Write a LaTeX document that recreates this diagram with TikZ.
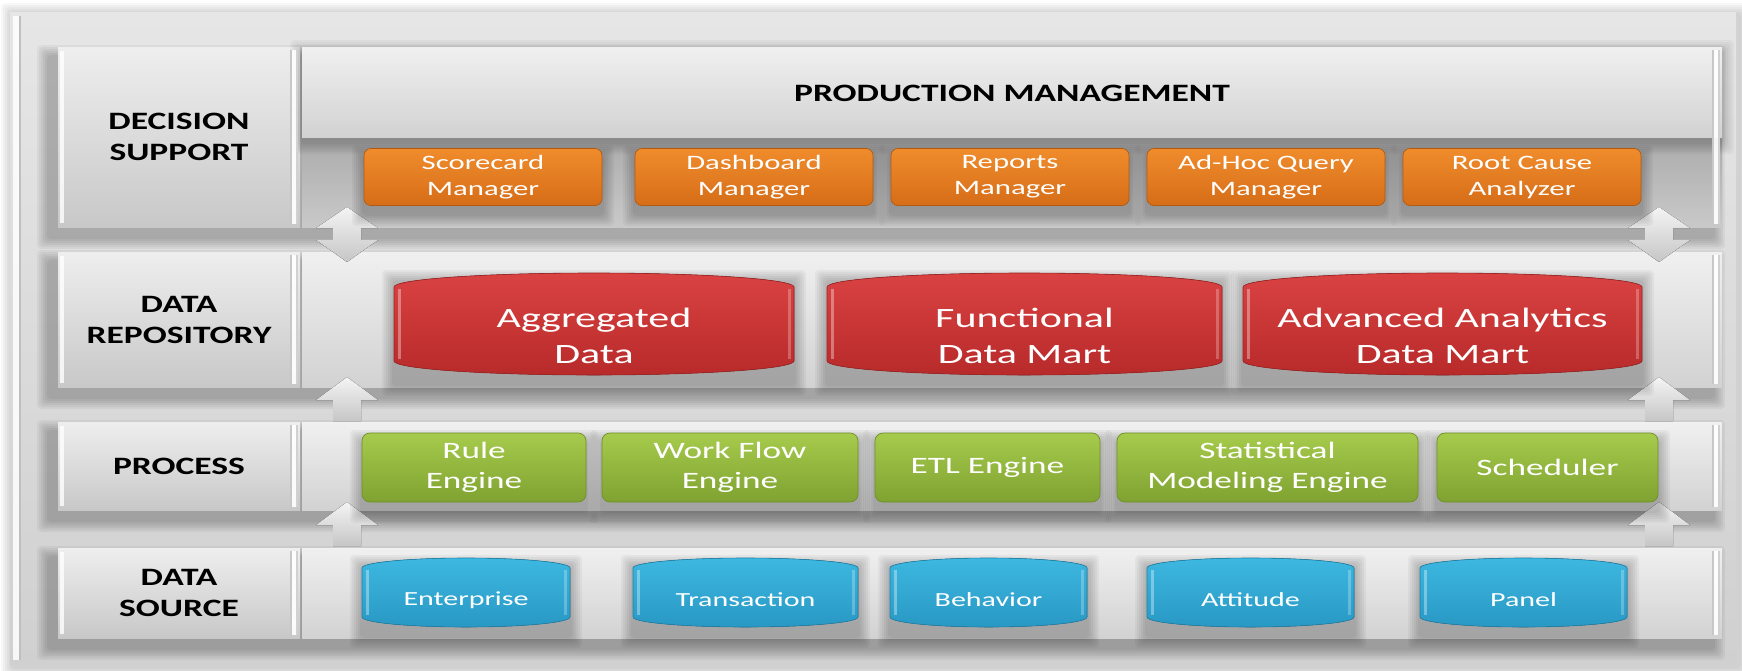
\documentclass[tikz,border=0pt]{standalone}
\usepackage{fontspec}
\newfontfamily\txtf{Carlito}[FakeStretch=1.5]
\newfontfamily\lblf{Carlito}[FakeStretch=1.42]
\usetikzlibrary{calc}
\pgfdeclarelayer{back}
\pgfdeclarelayer{mid}
\pgfsetlayers{back,mid,main}
\definecolor{panelA}{HTML}{E6E6E6}
\definecolor{panelB}{HTML}{D0D0D0}
\definecolor{boxA}{HTML}{EEEEEE}
\definecolor{boxB}{HTML}{C8C8C8}
\definecolor{bandA}{HTML}{F0F0F0}
\definecolor{bandB}{HTML}{D2D2D2}
\definecolor{darkA}{HTML}{ABABAB}
\definecolor{darkM}{HTML}{DADADA}
\definecolor{darkB}{HTML}{C9C9C9}
\definecolor{orA}{HTML}{F08C2C}
\definecolor{orB}{HTML}{D66D18}
\definecolor{orE}{HTML}{B35A12}
\definecolor{rdA}{HTML}{DA4242}
\definecolor{rdB}{HTML}{B82A2A}
\definecolor{grA}{HTML}{A6CB4C}
\definecolor{grB}{HTML}{7FA231}
\definecolor{grE}{HTML}{6E8F28}
\definecolor{blA}{HTML}{3DB8E0}
\definecolor{blB}{HTML}{2898C4}
\definecolor{arA}{HTML}{F4F4F4}
\definecolor{arB}{HTML}{C6C6C6}
\newcommand\fshadow[7][0.035]{%
  \foreach \k in {1,...,6}{%
    \fill[black, opacity=#1, rounded corners=4pt]
      ({#2+#6-2*\k},{#3+#7-2*\k}) rectangle ({#4+#6+2*\k},{#5+#7+2*\k});
  }}
\newcommand\bevel[3]{% x, y1, y2
  \fill[black!22] ({#1-2},#2) rectangle (#1,#3);
  \fill[white,opacity=.92] (#1,#2) rectangle ({#1+4},#3);
  \fill[black!18] ({#1+4},#2) rectangle ({#1+6},#3);}
\newcommand\can[7]{% x1,y1,x2,y2,bulge,colA,colB
  \pgfmathsetmacro\cxm{(#1+#3)/2}
  \pgfmathsetmacro\crx{(#3-#1)/2*0.5523}
  \pgfmathsetmacro\cb{#5*0.5523}
  \fshadow[0.04]{#1}{#2}{#3}{#4}{0}{9}
  \fill[top color=#6, bottom color=#7, draw=#7!85!black, line width=0.6pt]
    (#1,{#2+#5}) .. controls (#1,{#2+#5-\cb}) and ({\cxm-\crx},#2) .. (\cxm,#2)
    .. controls ({\cxm+\crx},#2) and (#3,{#2+#5-\cb}) .. (#3,{#2+#5})
    -- (#3,{#4-#5}) .. controls (#3,{#4-#5+\cb}) and ({\cxm+\crx},#4) .. (\cxm,#4)
    .. controls ({\cxm-\crx},#4) and (#1,{#4-#5+\cb}) .. (#1,{#4-#5}) -- cycle;
  \draw[white, opacity=.35, line width=3pt] ({#1+5},{#2+#5+2}) -- ({#1+5},{#4-#5-2});
  \draw[white, opacity=.25, line width=3pt] ({#3-5},{#2+#5+2}) -- ({#3-5},{#4-#5-2});}
\tikzset{
  lbl/.style={font=\lblf\bfseries\fontsize{25}{31}\selectfont, align=center, text=black, inner sep=0pt},
  obox/.style={rounded corners=7pt, top color=orA, bottom color=orB, draw=orE, line width=0.7pt,
    minimum width=238pt, minimum height=57pt, text=white, align=center,
    font=\txtf\fontsize{20.5}{26}\selectfont, inner sep=0pt},
  gbox/.style={rounded corners=8pt, top color=grA, bottom color=grB, draw=grE, line width=0.7pt,
    minimum height=69pt, text=white, align=center,
    font=\txtf\fontsize{23.5}{30}\selectfont, inner sep=0pt},
  rtext/.style={text=white, align=center, font=\txtf\fontsize{28}{36}\selectfont, inner sep=0pt},
  btext/.style={text=white, align=center, font=\txtf\fontsize{20}{24}\selectfont, inner sep=0pt},
  arrfill/.style={top color=arA, bottom color=arB},
}
\begin{document}
\begin{tikzpicture}[x=1pt,y=-1pt]
\useasboundingbox (0,0) rectangle (1742,670);
\begin{pgfonlayer}{back}
  \fill[white] (0,0) rectangle (1742,670);
  % outer panel
  \fshadow[0.03]{10}{12}{1736}{664}{3}{3}
  \fill[top color=panelA, bottom color=panelB] (10,12) rectangle (1736,664);
  \fill[white,opacity=.85] (13,16) rectangle (19,660);
  \fill[black!25] (19,16) rectangle (21,660);
  % row shadows
  \foreach \ya/\yb in {47/227,252/387,422/510,548/638}{%
    \fshadow[0.045]{58}{\ya}{1722}{\yb}{-9}{10}
  }
  % label boxes
  \foreach \ya/\yb in {47/227,252/387,422/510,548/638}{%
    \fill[top color=boxA, bottom color=boxB] (58,\ya) rectangle (300,\yb);
    \fill[white,opacity=.8] (60,{\ya+4}) rectangle (64,{\yb-4});
  }
  % right bands
  \fill[top color=darkA, middle color=darkM, bottom color=darkB] (302,137) rectangle (1722,227);
  \fshadow[0.03]{302}{47}{1722}{137}{0}{5}
  \fill[top color=bandA, bottom color=bandB] (302,47) rectangle (1722,137);
  \foreach \ya/\yb in {252/387,422/510,548/638}{%
    \fill[top color=bandA, bottom color=bandB] (302,\ya) rectangle (1722,\yb);
  }
  % bevel stripes
  \foreach \ya/\yb in {47/227,252/387,422/510,548/638}{%
    \bevel{292}{\ya+3}{\yb-3}
    \bevel{1714}{\ya+3}{\yb-3}
  }
  % arrows between layers
  \coordinate (dl) at (347,207); \coordinate (dr) at (1659,207);
  \coordinate (ul1) at (347,377); \coordinate (ur1) at (1659,377);
  \coordinate (ul2) at (347,502); \coordinate (ur2) at (1659,502);
  \foreach \c in {dl,dr}{%
    \fill[arrfill] (\c) -- ++(31,21) -- ++(-17,0) -- ++(0,12) -- ++(17,0)
      -- ++(-31,22) -- ++(-31,-22) -- ++(17,0) -- ++(0,-12) -- ++(-17,0) -- cycle;
  }
  \foreach \c in {ul1,ur1,ul2,ur2}{%
    \fill[arrfill] (\c) -- ++(31,23) -- ++(-17,0) -- ++(0,21) -- ++(-28,0)
      -- ++(0,-21) -- ++(-17,0) -- cycle;
  }
\end{pgfonlayer}
% left labels
\node[lbl] (ds) at (179,137) {DECISION\\SUPPORT};
\node[lbl] (drp) at (179,320) {DATA\\REPOSITORY};
\node[lbl] (prc) at (179,466) {PROCESS};
\node[lbl] (dsr) at (179,593) {DATA\\SOURCE};
\node[lbl] (pm) at (1012,93) {PRODUCTION MANAGEMENT};
% shapes with shadows
\begin{pgfonlayer}{mid}
  \foreach \xa/\xb in {364/602,635/873,891/1129,1147/1385,1403/1641}{%
    \fshadow[0.04]{\xa}{148}{\xb}{205}{0}{9}
  }
  \foreach \xa/\xb in {362/586,602/858,875/1100,1117/1418,1437/1658}{%
    \fshadow[0.04]{\xa}{433}{\xb}{502}{0}{9}
  }
  \can{394}{273}{794}{375}{14}{rdA}{rdB}
  \can{827}{273}{1222}{375}{14}{rdA}{rdB}
  \can{1243}{273}{1642}{375}{14}{rdA}{rdB}
  \can{362}{558}{570}{627}{10}{blA}{blB}
  \can{633}{558}{858}{627}{10}{blA}{blB}
  \can{890}{558}{1087}{627}{10}{blA}{blB}
  \can{1147}{558}{1354}{627}{10}{blA}{blB}
  \can{1420}{558}{1627}{627}{10}{blA}{blB}
\end{pgfonlayer}
\node[obox] (sc) at (483,177) {Scorecard\\Manager};
\node[obox] (db) at (754,177) {Dashboard\\Manager};
\node[obox] (rp) at (1010,177) {Reports\\Manager};
\node[obox] (ah) at (1266,177) {Ad-Hoc Query\\Manager};
\node[obox] (rc) at (1522,177) {Root Cause\\Analyzer};
% data repository
\node[rtext] (agg) at (594,336) {Aggregated\\Data};
\node[rtext] (fdm) at (1024.5,336) {Functional\\Data Mart};
\node[rtext] (adm) at (1442.5,336) {Advanced Analytics\\Data Mart};
% process
\node[gbox, minimum width=224pt] (rule) at (474,467.5) {Rule\\Engine};
\node[gbox, minimum width=256pt] (wf) at (730,467.5) {Work Flow\\Engine};
\node[gbox, minimum width=225pt] (etl) at (987.5,467.5) {ETL Engine};
\node[gbox, minimum width=301pt] (stat) at (1267.5,467.5) {Statistical\\Modeling Engine};
\node[gbox, minimum width=221pt] (sch) at (1547.5,467.5) {Scheduler};
% data source
\node[btext] (ent) at (466,600) {Enterprise};
\node[btext] (trn) at (745.5,600) {Transaction};
\node[btext] (beh) at (988.5,600) {Behavior};
\node[btext] (att) at (1250.5,600) {Attitude};
\node[btext] (pan) at (1523.5,600) {Panel};
\end{tikzpicture}
\end{document}
